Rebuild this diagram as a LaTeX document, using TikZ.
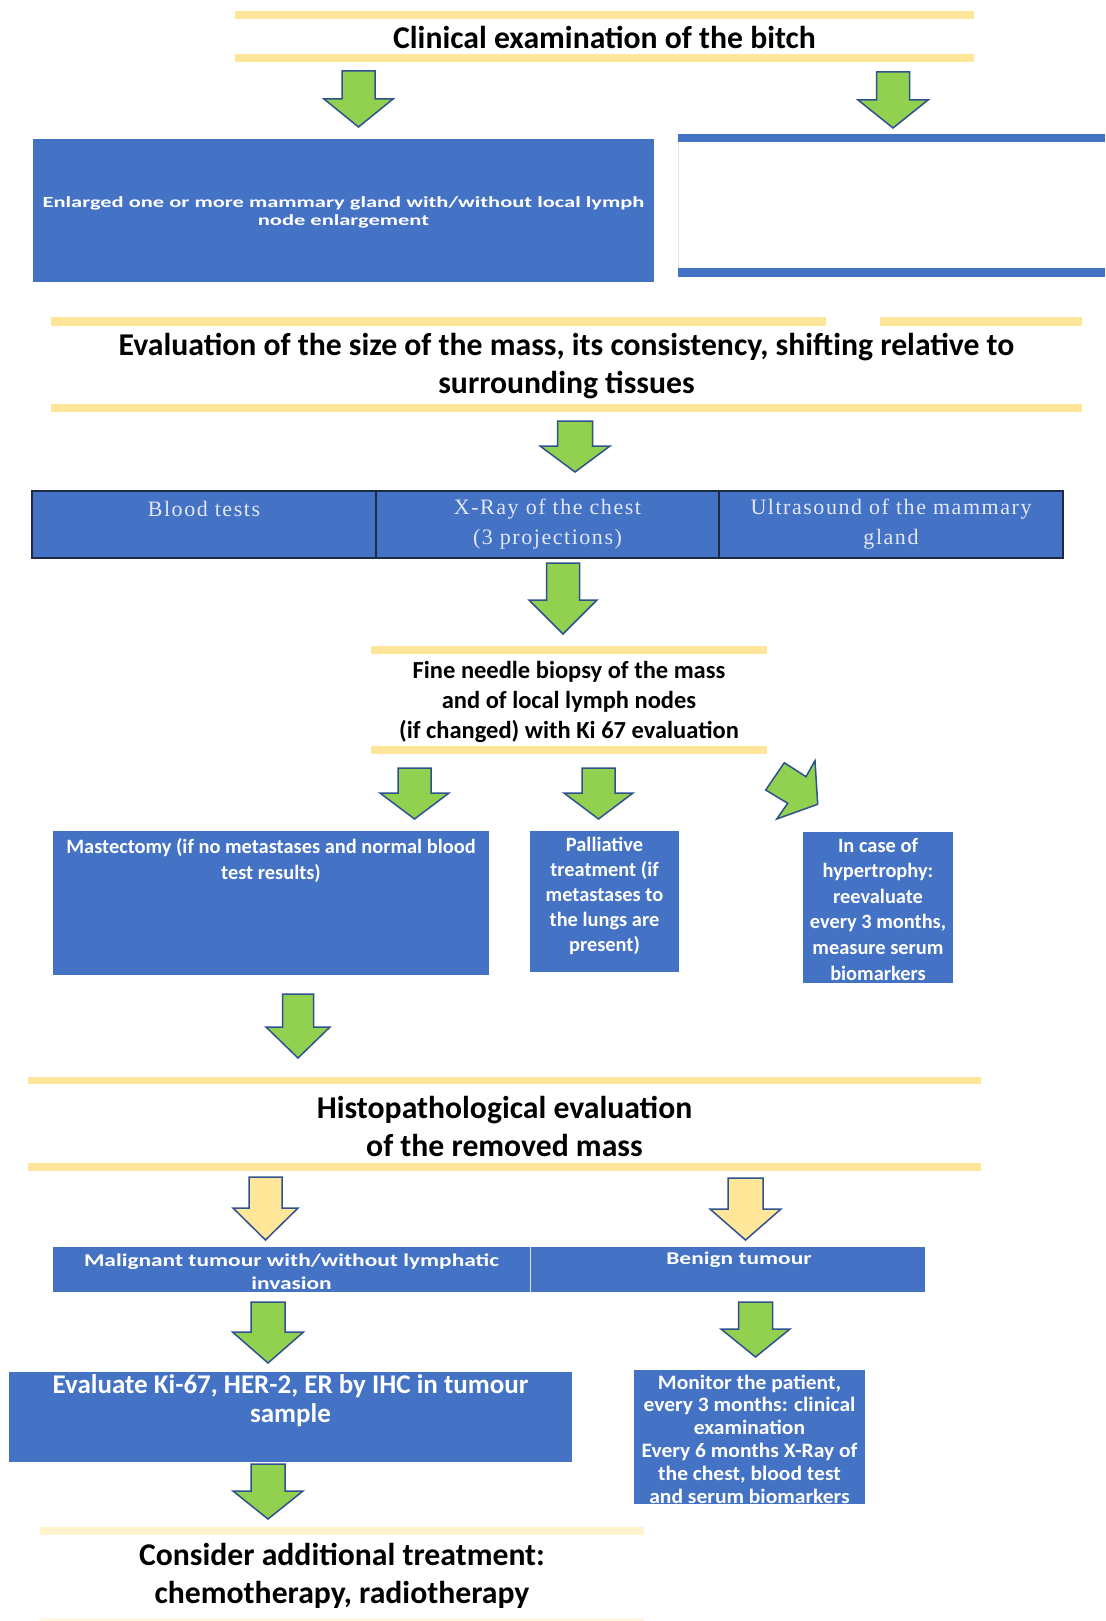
\documentclass[tikz,border=0pt]{standalone}
\usepackage{fontspec}
\setmainfont{Carlito}
\newfontfamily\wideA[FakeStretch=1.45]{Carlito}
\newfontfamily\wideB[FakeStretch=1.3]{Carlito}
\newfontfamily\wideC[FakeStretch=1.05]{Carlito}
\newfontfamily\tabfont[LetterSpace=7]{Liberation Serif}
\definecolor{myblue}{HTML}{4472C4}
\definecolor{myyellow}{HTML}{FFE699}
\definecolor{paleyellow}{HTML}{FFF2CC}
\definecolor{mygreen}{HTML}{92D050}
\definecolor{arrowblue}{HTML}{2F528F}
\definecolor{tabline}{HTML}{1F2A44}
\definecolor{tabtext}{HTML}{E2E8F5}
\newcommand{\blockarrow}[7]{%
  \draw[arrowline, fill=#7] (#1-#5,#2) -- (#1+#5,#2) -- (#1+#5,#3) -- (#1+#6,#3)
    -- (#1,#4) -- (#1-#6,#3) -- (#1-#5,#3) -- cycle;}
\tikzset{
  bluebox/.style={fill=myblue, draw=none, inner sep=0pt, outer sep=0pt},
  whitebox/.style={fill=white, draw=none, inner sep=0pt, outer sep=0pt},
  tabcell/.style={fill=myblue, draw=tabline, line width=1.6pt, inner sep=0pt, outer sep=0pt},
  wt/.style={text=white, align=center, inner sep=0pt},
  bt/.style={text=black, align=center, inner sep=0pt},
  tt/.style={text=tabtext, font=\tabfont\fontsize{22}{30}\selectfont, align=center, inner sep=0pt},
  arrowline/.style={draw=arrowblue, line width=1.5pt, line join=miter},
  band/.style={fill=myyellow, draw=none},
  bigtitle/.style={bt, font=\fontsize{31.7}{38}\selectfont\bfseries},
}
\begin{document}
\begin{tikzpicture}[x=1pt,y=-1pt]
\useasboundingbox (0,0) rectangle (1105,1621);
\fill[white] (0,0) rectangle (1105,1621);

% Title
\node[whitebox, minimum width=739pt, minimum height=50pt] (clin) at (604.5,36.5) {};
\fill[band] (235,11) rectangle (974,19);
\fill[band] (235,54) rectangle (974,62);
\node[bigtitle] (clint) at (604.5,37) {Clinical examination of the bitch};

\blockarrow{358.5}{71}{99}{127}{16.5}{34.5}{mygreen}
\blockarrow{893}{72}{100}{128}{16.5}{35}{mygreen}

% Box 1
\node[bluebox, minimum width=621pt, minimum height=143pt] (enl) at (343.5,210.5) {};
\node[wt, font=\wideA\fontsize{15.5}{18}\selectfont\bfseries] (enlt) at (343.5,212) {Enlarged one or more mammary gland with/without local lymph\\node enlargement};

% Right empty box
\node[whitebox, minimum width=427pt, minimum height=143pt] (emp) at (891.5,205.5) {};
\draw[black!10, line width=0.6pt] (678,142) -- (678,268);
\fill[myblue] (678,134) rectangle (1105,142);
\fill[myblue] (678,268) rectangle (1105,277);

% Evaluation
\node[whitebox, minimum width=1031pt, minimum height=95pt] (eval) at (566.5,364.5) {};
\fill[band] (51,317) rectangle (826,326);
\fill[band] (880,317) rectangle (1082,326);
\fill[band] (51,404) rectangle (1082,412);
\node[bigtitle] (evalt) at (566.5,366) {Evaluation of the size of the mass, its consistency, shifting relative to\\surrounding tissues};

\blockarrow{575}{421}{446}{472}{17.5}{35}{mygreen}

% Table
\node[tabcell, minimum width=344pt, minimum height=67pt] (c1) at (204,524.5) {};
\node[tabcell, minimum width=343pt, minimum height=67pt] (c2) at (547.5,524.5) {};
\node[tabcell, minimum width=344pt, minimum height=67pt] (c3) at (891,524.5) {};
\node[tt] (c1t) at (204,509) {Blood tests};
\node[tt] (c2t) at (547.5,524) {X-Ray of the chest\\(3 projections)};
\node[tt] (c3t) at (891,524) {Ultrasound of the mammary\\gland};

\blockarrow{563}{563}{600}{634}{16.5}{34}{mygreen}

% Biopsy
\node[whitebox, minimum width=396pt, minimum height=108pt] (bio) at (569,700) {};
\fill[band] (371,646) rectangle (767,654);
\fill[band] (371,746) rectangle (767,754);
\node[bt, font=\fontsize{24.5}{30}\selectfont\bfseries] (biot) at (569,702) {Fine needle biopsy of the mass\\and of local lymph nodes\\(if changed) with Ki 67 evaluation};

\blockarrow{414.5}{768}{793}{819}{16.5}{34.5}{mygreen}
\blockarrow{598.5}{768}{793}{819}{16.5}{34.5}{mygreen}
\draw[arrowline, fill=mygreen] (765.7,790) -- (784.3,762.7) -- (806,776.7) -- (815,760.7)
  -- (817.7,804.3) -- (776.7,819) -- (787.7,803.3) -- cycle;

% Mastectomy / Palliative / Hypertrophy
\node[bluebox, minimum width=436pt, minimum height=144pt] (mast) at (271,903) {};
\node[wt, font=\fontsize{20.4}{26}\selectfont\bfseries] (mastt) at (271,860) {Mastectomy (if no metastases and normal blood\\test results)};
\node[bluebox, minimum width=149pt, minimum height=141pt] (pall) at (604.5,901.5) {};
\node[wt, font=\fontsize{20.4}{25}\selectfont\bfseries] (pallt) at (604.5,896) {Palliative\\treatment (if\\metastases to\\the lungs are\\present)};
\node[bluebox, minimum width=150pt, minimum height=151pt] (hyp) at (878,907.5) {};
\node[wt, font=\fontsize{20.4}{25.6}\selectfont\bfseries] (hypt) at (878,909) {In case of\\hypertrophy:\\reevaluate\\every 3 months,\\measure serum\\biomarkers};

\blockarrow{298}{994}{1027}{1058}{15.5}{32}{mygreen}

% Histopathological
\node[whitebox, minimum width=953pt, minimum height=94pt] (histo) at (504.5,1124) {};
\fill[band] (28,1077) rectangle (981,1084);
\fill[band] (28,1163) rectangle (981,1171);
\node[bigtitle] (histot) at (504.5,1126) {Histopathological evaluation\\of the removed mass};

\blockarrow{265.5}{1177}{1208}{1240}{16.5}{32.5}{myyellow}
\blockarrow{745.5}{1178}{1209}{1240}{17.5}{35.5}{myyellow}

% Malignant / Benign
\node[bluebox, minimum width=477pt, minimum height=45pt] (mal) at (291.5,1269.5) {};
\node[bluebox, minimum width=395pt, minimum height=45pt] (ben) at (727.5,1269.5) {};
\draw[white!80!myblue, line width=1pt] (mal.north east) -- (mal.south east);
\node[wt, font=\wideB\fontsize{18}{23}\selectfont\bfseries] (malt) at (291.5,1271.5) {Malignant tumour with/without lymphatic\\invasion};
\node[wt, font=\wideB\fontsize{18}{23}\selectfont\bfseries] (bent) at (739,1260) {Benign tumour};

\blockarrow{268}{1302}{1332}{1363}{17}{35.5}{mygreen}
\blockarrow{755.5}{1302}{1329}{1357}{17}{34.5}{mygreen}

% Evaluate / Monitor
\node[bluebox, minimum width=563pt, minimum height=90pt] (ihc) at (290.5,1417) {};
\node[wt, font=\fontsize{27}{29.5}\selectfont\bfseries] (ihct) at (290.5,1400.5) {Evaluate Ki-67, HER-2, ER by IHC in tumour\\sample};
\node[bluebox, minimum width=231pt, minimum height=134pt] (mon) at (749.5,1437) {};
\node[wt, font=\wideC\fontsize{20.5}{22.8}\selectfont\bfseries] (mont) at (749.5,1439) {Monitor the patient,\\every 3 months: clinical\\examination\\Every 6 months X-Ray of\\the chest, blood test\\and serum biomarkers};

\blockarrow{268}{1464}{1491}{1519}{17}{35}{mygreen}

% Consider
\node[whitebox, minimum width=604pt, minimum height=94pt] (cons) at (342,1574) {};
\fill[paleyellow] (40,1527) rectangle (644,1535);
\fill[paleyellow!60!white] (40,1618) rectangle (644,1621);
\node[bigtitle] (const) at (342,1575.5) {Consider additional treatment:\\chemotherapy, radiotherapy};
\end{tikzpicture}
\end{document}
